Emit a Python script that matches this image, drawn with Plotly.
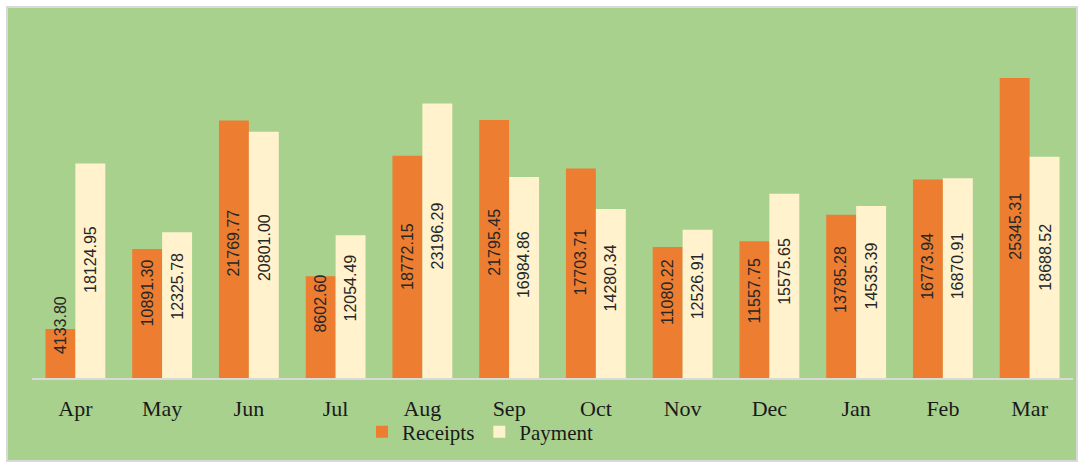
import plotly.graph_objects as go

months = ["Apr", "May", "Jun", "Jul", "Aug", "Sep", "Oct", "Nov", "Dec", "Jan", "Feb", "Mar"]
receipts = [4133.80, 10891.30, 21769.77, 8602.60, 18772.15, 21795.45, 17703.71, 11080.22, 11557.75, 13785.28, 16773.94, 25345.31]
payment = [18124.95, 12325.78, 20801.00, 12054.49, 23196.29, 16984.86, 14280.34, 12526.91, 15575.65, 14535.39, 16870.91, 18688.52]

GREEN = "#a9d18e"
ORANGE = "#ed7d31"
CREAM = "#fff2cc"

label_font = dict(family="Liberation Sans, Arial, sans-serif", size=16, color="#262626")
serif = "Liberation Serif, Times New Roman, serif"

fig = go.Figure()
series = [("Receipts", receipts, ORANGE, -15), ("Payment", payment, CREAM, 15)]
for name, vals, col, shift in series:
    fig.add_trace(go.Bar(
        name=name, x=months, y=vals,
        marker=dict(color=col, line=dict(width=0)),
        hoverinfo="x+y+name",
    ))
    # value labels, rotated, placed inside each bar (Excel-like placement)
    for m, v in zip(months, vals):
        fig.add_annotation(
            x=m, y=0.393 * v + 2880, xref="x", yref="y", xshift=shift,
            text=f"{v:.2f}", textangle=-90, showarrow=False,
            xanchor="center", yanchor="middle", font=label_font,
        )

W, H = 1083, 463
ml, mr, mt, mb = 32, W - 1073, 23, H - 378
pw, ph = W - ml - mr, H - mt - mb

def px_x(p):
    return (p - ml) / pw

def px_y(p):
    return (H - mb - p) / ph

fig.add_shape(type="rect", xref="paper", yref="paper",
              x0=px_x(7), x1=px_x(1077), y0=px_y(461), y1=px_y(7),
              fillcolor=GREEN, line=dict(color="#d9d9d9", width=2), layer="below")

fig.update_layout(
    width=W, height=H,
    margin=dict(l=ml, r=mr, t=mt, b=mb, autoexpand=False),
    paper_bgcolor="white", plot_bgcolor=GREEN,
    barmode="group", bargap=0.31, bargroupgap=0,
    showlegend=True,
    legend=dict(orientation="h", x=px_x(362), xanchor="left", y=px_y(432), yanchor="middle",
                font=dict(family=serif, size=21, color="#1a1a1a"),
                bgcolor="rgba(0,0,0,0)", itemwidth=30, traceorder="normal"),
    xaxis=dict(showline=True, linecolor="#d9d9d9", linewidth=2, ticks="", showgrid=False,
               tickfont=dict(family=serif, size=22, color="#1a1a1a"),
               ticklabelstandoff=10),
    yaxis=dict(range=[0, 30000], showticklabels=False, showgrid=False, zeroline=False, showline=False),
)

fig.write_html("out.html", config={"displayModeBar": False},
               post_script="document.body.style.margin='0';document.body.style.overflow='hidden';")
